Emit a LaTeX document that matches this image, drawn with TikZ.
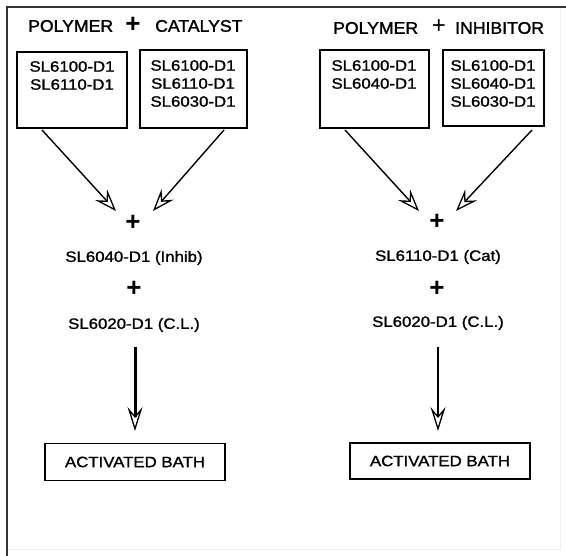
\documentclass[tikz,border=0pt]{standalone}
\usepackage{fontspec}
\setmainfont{Liberation Sans}
\newfontfamily\wide{Liberation Sans}[FakeStretch=1.12, FakeBold=1.3]
\newfontfamily\ttlfont{Liberation Sans}[FakeStretch=1.05, FakeBold=1.6]
\usetikzlibrary{arrows.meta}
\tikzset{
  txt/.style={inner sep=0pt, font=\wide\fontsize{15}{18}\selectfont, align=center},
  ttl/.style={inner sep=0pt, font=\ttlfont\fontsize{16.8}{19}\selectfont},
  pls/.style={inner sep=0pt, font=\bfseries\fontsize{26}{26}\selectfont},
  box/.style={draw, line width=1.5pt},
  flow/.style={line width=1.4pt, -{Stealth[open, length=22pt, width=16pt, inset=8pt, line width=1.3pt]}},
  down/.style={-{Stealth[open, length=24pt, width=15pt, inset=9pt, line width=1.3pt]}}
}
\begin{document}
\begin{tikzpicture}[x=1pt, y=-1pt]
\useasboundingbox (0,0) rectangle (566,556);
% frame
\draw[gray!12, line width=1pt] (560,7) -- (560,550) -- (7,550);
\draw[black!80, line width=2pt] (7,556) -- (7,7) -- (566,7);

% ---------- left ----------
\node[ttl, anchor=west] (tL1) at (28,26) {POLYMER};
\node[pls] (tLp) at (133,25) {+};
\node[ttl, anchor=west] (tL2) at (155,26) {CATALYST};

\draw[box] (17,52) rectangle (127,128);
\node (L1) at (72,90) {};
\node[txt, anchor=north] (L1t) at (72,61) {SL6100-D1\\SL6110-D1};
\draw[box] (140,50) rectangle (247,128);
\node (L2) at (193,89) {};
\node[txt, anchor=north] (L2t) at (193,60) {SL6100-D1\\SL6110-D1\\SL6030-D1};

\coordinate (aL1) at (42,130);
\coordinate (bL1) at (116,211);
\coordinate (aL2) at (224,130);
\coordinate (bL2) at (153,211);
\draw[flow] (aL1) -- (bL1);
\draw[flow] (aL2) -- (bL2);

\node[pls] (pL1) at (133,223) {+};
\node[txt] (iL) at (134,258) {SL6040-D1 (Inhib)};
\node[pls] (pL2) at (134,289) {+};
\node[txt] (cL) at (134,325) {SL6020-D1 (C.L.)};
\node[box, txt, minimum width=180pt, minimum height=37pt] (bathL) at (135,462) {ACTIVATED BATH};
\coordinate (tipL) at (135,431);
\draw[down, line width=3pt] (135,347) -- (tipL);

% ---------- right ----------
\node[ttl, anchor=west] (tR1) at (333,28) {POLYMER};
\node[pls, font=\fontsize{24}{24}\selectfont] (tRp) at (439,27) {+};
\node[ttl, anchor=west] (tR2) at (455,28) {INHIBITOR};

\draw[box, line width=2.6pt] (320,50) rectangle (429,128);
\node (R1) at (374,89) {};
\node[txt, anchor=north] (R1t) at (374,60) {SL6100-D1\\SL6040-D1};
\draw[box, line width=2pt] (443,50) rectangle (544,126);
\node (R2) at (493,88) {};
\node[txt, anchor=north] (R2t) at (493,60) {SL6100-D1\\SL6040-D1\\SL6030-D1};

\coordinate (aR1) at (345,130);
\coordinate (bR1) at (419,211);
\coordinate (aR2) at (532,130);
\coordinate (bR2) at (456,211);
\draw[flow] (aR1) -- (bR1);
\draw[flow] (aR2) -- (bR2);

\node[pls] (pR1) at (437,222) {+};
\node[txt] (iR) at (438,257) {SL6110-D1 (Cat)};
\node[pls] (pR2) at (437,289) {+};
\node[txt] (cR) at (438,323) {SL6020-D1 (C.L.)};
\node[box, txt, minimum width=180pt, minimum height=36pt] (bathR) at (440,461) {ACTIVATED BATH};
\coordinate (tipR) at (438,431);
\draw[down, line width=1.5pt] (438,347) -- (tipR);
\end{tikzpicture}
\end{document}
